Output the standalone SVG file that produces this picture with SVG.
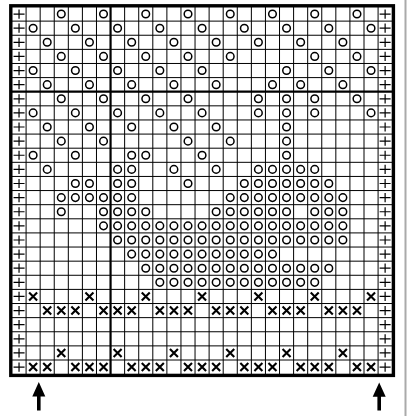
<svg xmlns="http://www.w3.org/2000/svg" xmlns:xlink="http://www.w3.org/1999/xlink" width="411" height="416" viewBox="0 0 411 416">
<style>
.grid{fill:none;stroke:#000;stroke-width:1}
.thick{fill:none;stroke:#000;stroke-width:2.2}
.border{fill:none;stroke:#000;stroke-width:3.4}
.o{fill:none;stroke:#000;stroke-width:1.5}
.x{stroke:#000;stroke-width:2.1;stroke-linecap:butt}
.p{stroke:#000;stroke-width:1.2}
.arrow{fill:#000}
</style>
<defs>
<g id="o"><circle class="o" cx="0" cy="0" r="3.8"/></g>
<g id="x"><path class="x" d="M-4,-4L4,4M4,-4L-4,4"/></g>
<g id="p"><path class="p" d="M-5.5,0H5.5M0,-4.6V4.6"/></g>
</defs>
<rect x="0" y="0" width="411" height="416" fill="#fff"/>
<line x1="405.5" y1="0" x2="405.5" y2="416" stroke="#aaa" stroke-width="2"/>
<g id="grid-lines">
<path class="grid" d="M26.08,7V374.12M40.16,7V374.12M54.24,7V374.12M68.32,7V374.12M82.4,7V374.12M96.48,7V374.12M124.64,7V374.12M138.72,7V374.12M152.8,7V374.12M166.88,7V374.12M180.96,7V374.12M195.04,7V374.12M209.12,7V374.12M223.2,7V374.12M237.28,7V374.12M251.36,7V374.12M265.44,7V374.12M279.52,7V374.12M293.6,7V374.12M307.68,7V374.12M321.76,7V374.12M335.84,7V374.12M349.92,7V374.12M364,7V374.12M378.08,7V374.12"/>
<path class="grid" d="M12,21.12H392.16M12,35.24H392.16M12,49.36H392.16M12,63.48H392.16M12,77.6H392.16M12,105.84H392.16M12,119.96H392.16M12,134.08H392.16M12,148.2H392.16M12,162.32H392.16M12,176.44H392.16M12,190.56H392.16M12,204.68H392.16M12,218.8H392.16M12,232.92H392.16M12,247.04H392.16M12,261.16H392.16M12,275.28H392.16M12,289.4H392.16M12,303.52H392.16M12,317.64H392.16M12,331.76H392.16M12,345.88H392.16M12,360H392.16"/>
<path class="thick" d="M110.56,7V374.12M12,91.72H392.16"/>
<rect class="border" x="10.8" y="5.8" width="382.6" height="369.6"/>
</g>
<g id="edge-stitches">
<use xlink:href="#p" x="19.04" y="14.06"/><use xlink:href="#p" x="385.12" y="14.06"/>
<use xlink:href="#p" x="19.04" y="28.18"/><use xlink:href="#p" x="385.12" y="28.18"/>
<use xlink:href="#p" x="19.04" y="42.3"/><use xlink:href="#p" x="385.12" y="42.3"/>
<use xlink:href="#p" x="19.04" y="56.42"/><use xlink:href="#p" x="385.12" y="56.42"/>
<use xlink:href="#p" x="19.04" y="70.54"/><use xlink:href="#p" x="385.12" y="70.54"/>
<use xlink:href="#p" x="19.04" y="84.66"/><use xlink:href="#p" x="385.12" y="84.66"/>
<use xlink:href="#p" x="19.04" y="98.78"/><use xlink:href="#p" x="385.12" y="98.78"/>
<use xlink:href="#p" x="19.04" y="112.9"/><use xlink:href="#p" x="385.12" y="112.9"/>
<use xlink:href="#p" x="19.04" y="127.02"/><use xlink:href="#p" x="385.12" y="127.02"/>
<use xlink:href="#p" x="19.04" y="141.14"/><use xlink:href="#p" x="385.12" y="141.14"/>
<use xlink:href="#p" x="19.04" y="155.26"/><use xlink:href="#p" x="385.12" y="155.26"/>
<use xlink:href="#p" x="19.04" y="169.38"/><use xlink:href="#p" x="385.12" y="169.38"/>
<use xlink:href="#p" x="19.04" y="183.5"/><use xlink:href="#p" x="385.12" y="183.5"/>
<use xlink:href="#p" x="19.04" y="197.62"/><use xlink:href="#p" x="385.12" y="197.62"/>
<use xlink:href="#p" x="19.04" y="211.74"/><use xlink:href="#p" x="385.12" y="211.74"/>
<use xlink:href="#p" x="19.04" y="225.86"/><use xlink:href="#p" x="385.12" y="225.86"/>
<use xlink:href="#p" x="19.04" y="239.98"/><use xlink:href="#p" x="385.12" y="239.98"/>
<use xlink:href="#p" x="19.04" y="254.1"/><use xlink:href="#p" x="385.12" y="254.1"/>
<use xlink:href="#p" x="19.04" y="268.22"/><use xlink:href="#p" x="385.12" y="268.22"/>
<use xlink:href="#p" x="19.04" y="282.34"/><use xlink:href="#p" x="385.12" y="282.34"/>
<use xlink:href="#p" x="19.04" y="296.46"/><use xlink:href="#p" x="385.12" y="296.46"/>
<use xlink:href="#p" x="19.04" y="310.58"/><use xlink:href="#p" x="385.12" y="310.58"/>
<use xlink:href="#p" x="19.04" y="324.7"/><use xlink:href="#p" x="385.12" y="324.7"/>
<use xlink:href="#p" x="19.04" y="338.82"/><use xlink:href="#p" x="385.12" y="338.82"/>
<use xlink:href="#p" x="19.04" y="352.94"/><use xlink:href="#p" x="385.12" y="352.94"/>
<use xlink:href="#p" x="19.04" y="367.06"/><use xlink:href="#p" x="385.12" y="367.06"/>
</g>
<g id="row-1" transform="translate(0,14.06)">
<use xlink:href="#o" x="61.28"/><use xlink:href="#o" x="103.52"/><use xlink:href="#o" x="145.76"/><use xlink:href="#o" x="188"/><use xlink:href="#o" x="230.24"/><use xlink:href="#o" x="272.48"/><use xlink:href="#o" x="314.72"/><use xlink:href="#o" x="356.96"/>
</g>
<g id="row-2" transform="translate(0,28.18)">
<use xlink:href="#o" x="33.12"/><use xlink:href="#o" x="75.36"/><use xlink:href="#o" x="117.6"/><use xlink:href="#o" x="159.84"/><use xlink:href="#o" x="202.08"/><use xlink:href="#o" x="244.32"/><use xlink:href="#o" x="286.56"/><use xlink:href="#o" x="328.8"/><use xlink:href="#o" x="371.04"/>
</g>
<g id="row-3" transform="translate(0,42.3)">
<use xlink:href="#o" x="47.2"/><use xlink:href="#o" x="89.44"/><use xlink:href="#o" x="131.68"/><use xlink:href="#o" x="173.92"/><use xlink:href="#o" x="216.16"/><use xlink:href="#o" x="258.4"/><use xlink:href="#o" x="300.64"/><use xlink:href="#o" x="342.88"/>
</g>
<g id="row-4" transform="translate(0,56.42)">
<use xlink:href="#o" x="61.28"/><use xlink:href="#o" x="103.52"/><use xlink:href="#o" x="145.76"/><use xlink:href="#o" x="188"/><use xlink:href="#o" x="230.24"/><use xlink:href="#o" x="314.72"/><use xlink:href="#o" x="356.96"/>
</g>
<g id="row-5" transform="translate(0,70.54)">
<use xlink:href="#o" x="33.12"/><use xlink:href="#o" x="75.36"/><use xlink:href="#o" x="117.6"/><use xlink:href="#o" x="159.84"/><use xlink:href="#o" x="202.08"/><use xlink:href="#o" x="286.56"/><use xlink:href="#o" x="328.8"/><use xlink:href="#o" x="371.04"/>
</g>
<g id="row-6" transform="translate(0,84.66)">
<use xlink:href="#o" x="47.2"/><use xlink:href="#o" x="89.44"/><use xlink:href="#o" x="131.68"/><use xlink:href="#o" x="173.92"/><use xlink:href="#o" x="216.16"/><use xlink:href="#o" x="272.48"/><use xlink:href="#o" x="300.64"/><use xlink:href="#o" x="342.88"/>
</g>
<g id="row-7" transform="translate(0,98.78)">
<use xlink:href="#o" x="61.28"/><use xlink:href="#o" x="103.52"/><use xlink:href="#o" x="145.76"/><use xlink:href="#o" x="188"/><use xlink:href="#o" x="258.4"/><use xlink:href="#o" x="286.56"/><use xlink:href="#o" x="314.72"/><use xlink:href="#o" x="356.96"/>
</g>
<g id="row-8" transform="translate(0,112.9)">
<use xlink:href="#o" x="33.12"/><use xlink:href="#o" x="75.36"/><use xlink:href="#o" x="117.6"/><use xlink:href="#o" x="159.84"/><use xlink:href="#o" x="202.08"/><use xlink:href="#o" x="258.4"/><use xlink:href="#o" x="286.56"/><use xlink:href="#o" x="314.72"/><use xlink:href="#o" x="371.04"/>
</g>
<g id="row-9" transform="translate(0,127.02)">
<use xlink:href="#o" x="47.2"/><use xlink:href="#o" x="89.44"/><use xlink:href="#o" x="131.68"/><use xlink:href="#o" x="173.92"/><use xlink:href="#o" x="216.16"/><use xlink:href="#o" x="286.56"/>
</g>
<g id="row-10" transform="translate(0,141.14)">
<use xlink:href="#o" x="61.28"/><use xlink:href="#o" x="103.52"/><use xlink:href="#o" x="188"/><use xlink:href="#o" x="230.24"/><use xlink:href="#o" x="286.56"/>
</g>
<g id="row-11" transform="translate(0,155.26)">
<use xlink:href="#o" x="33.12"/><use xlink:href="#o" x="75.36"/><use xlink:href="#o" x="131.68"/><use xlink:href="#o" x="145.76"/><use xlink:href="#o" x="202.08"/><use xlink:href="#o" x="286.56"/>
</g>
<g id="row-12" transform="translate(0,169.38)">
<use xlink:href="#o" x="47.2"/><use xlink:href="#o" x="117.6"/><use xlink:href="#o" x="131.68"/><use xlink:href="#o" x="173.92"/><use xlink:href="#o" x="216.16"/><use xlink:href="#o" x="258.4"/><use xlink:href="#o" x="272.48"/><use xlink:href="#o" x="286.56"/><use xlink:href="#o" x="300.64"/><use xlink:href="#o" x="314.72"/>
</g>
<g id="row-13" transform="translate(0,183.5)">
<use xlink:href="#o" x="75.36"/><use xlink:href="#o" x="89.44"/><use xlink:href="#o" x="117.6"/><use xlink:href="#o" x="131.68"/><use xlink:href="#o" x="188"/><use xlink:href="#o" x="244.32"/><use xlink:href="#o" x="258.4"/><use xlink:href="#o" x="272.48"/><use xlink:href="#o" x="286.56"/><use xlink:href="#o" x="300.64"/><use xlink:href="#o" x="314.72"/><use xlink:href="#o" x="328.8"/>
</g>
<g id="row-14" transform="translate(0,197.62)">
<use xlink:href="#o" x="61.28"/><use xlink:href="#o" x="75.36"/><use xlink:href="#o" x="89.44"/><use xlink:href="#o" x="103.52"/><use xlink:href="#o" x="117.6"/><use xlink:href="#o" x="131.68"/><use xlink:href="#o" x="230.24"/><use xlink:href="#o" x="244.32"/><use xlink:href="#o" x="258.4"/><use xlink:href="#o" x="272.48"/><use xlink:href="#o" x="286.56"/><use xlink:href="#o" x="300.64"/><use xlink:href="#o" x="314.72"/><use xlink:href="#o" x="328.8"/><use xlink:href="#o" x="342.88"/>
</g>
<g id="row-15" transform="translate(0,211.74)">
<use xlink:href="#o" x="61.28"/><use xlink:href="#o" x="103.52"/><use xlink:href="#o" x="117.6"/><use xlink:href="#o" x="131.68"/><use xlink:href="#o" x="145.76"/><use xlink:href="#o" x="216.16"/><use xlink:href="#o" x="230.24"/><use xlink:href="#o" x="244.32"/><use xlink:href="#o" x="258.4"/><use xlink:href="#o" x="272.48"/><use xlink:href="#o" x="286.56"/><use xlink:href="#o" x="314.72"/><use xlink:href="#o" x="328.8"/><use xlink:href="#o" x="342.88"/>
</g>
<g id="row-16" transform="translate(0,225.86)">
<use xlink:href="#o" x="103.52"/><use xlink:href="#o" x="117.6"/><use xlink:href="#o" x="131.68"/><use xlink:href="#o" x="145.76"/><use xlink:href="#o" x="159.84"/><use xlink:href="#o" x="173.92"/><use xlink:href="#o" x="188"/><use xlink:href="#o" x="202.08"/><use xlink:href="#o" x="216.16"/><use xlink:href="#o" x="230.24"/><use xlink:href="#o" x="244.32"/><use xlink:href="#o" x="258.4"/><use xlink:href="#o" x="272.48"/><use xlink:href="#o" x="286.56"/><use xlink:href="#o" x="300.64"/><use xlink:href="#o" x="314.72"/><use xlink:href="#o" x="328.8"/><use xlink:href="#o" x="342.88"/>
</g>
<g id="row-17" transform="translate(0,239.98)">
<use xlink:href="#o" x="117.6"/><use xlink:href="#o" x="131.68"/><use xlink:href="#o" x="145.76"/><use xlink:href="#o" x="159.84"/><use xlink:href="#o" x="173.92"/><use xlink:href="#o" x="188"/><use xlink:href="#o" x="202.08"/><use xlink:href="#o" x="216.16"/><use xlink:href="#o" x="230.24"/><use xlink:href="#o" x="244.32"/><use xlink:href="#o" x="258.4"/><use xlink:href="#o" x="272.48"/><use xlink:href="#o" x="286.56"/><use xlink:href="#o" x="300.64"/><use xlink:href="#o" x="314.72"/><use xlink:href="#o" x="328.8"/><use xlink:href="#o" x="342.88"/>
</g>
<g id="row-18" transform="translate(0,254.1)">
<use xlink:href="#o" x="131.68"/><use xlink:href="#o" x="145.76"/><use xlink:href="#o" x="159.84"/><use xlink:href="#o" x="173.92"/><use xlink:href="#o" x="188"/><use xlink:href="#o" x="202.08"/><use xlink:href="#o" x="216.16"/><use xlink:href="#o" x="230.24"/><use xlink:href="#o" x="244.32"/><use xlink:href="#o" x="258.4"/><use xlink:href="#o" x="272.48"/>
</g>
<g id="row-19" transform="translate(0,268.22)">
<use xlink:href="#o" x="145.76"/><use xlink:href="#o" x="159.84"/><use xlink:href="#o" x="173.92"/><use xlink:href="#o" x="188"/><use xlink:href="#o" x="202.08"/><use xlink:href="#o" x="216.16"/><use xlink:href="#o" x="230.24"/><use xlink:href="#o" x="244.32"/><use xlink:href="#o" x="258.4"/><use xlink:href="#o" x="272.48"/><use xlink:href="#o" x="286.56"/><use xlink:href="#o" x="300.64"/><use xlink:href="#o" x="314.72"/><use xlink:href="#o" x="328.8"/>
</g>
<g id="row-20" transform="translate(0,282.34)">
<use xlink:href="#o" x="159.84"/><use xlink:href="#o" x="173.92"/><use xlink:href="#o" x="188"/><use xlink:href="#o" x="202.08"/><use xlink:href="#o" x="216.16"/><use xlink:href="#o" x="230.24"/><use xlink:href="#o" x="244.32"/><use xlink:href="#o" x="258.4"/><use xlink:href="#o" x="272.48"/><use xlink:href="#o" x="286.56"/><use xlink:href="#o" x="300.64"/><use xlink:href="#o" x="314.72"/>
</g>
<g id="row-21" transform="translate(0,296.46)">
<use xlink:href="#x" x="33.12"/><use xlink:href="#x" x="89.44"/><use xlink:href="#x" x="145.76"/><use xlink:href="#x" x="202.08"/><use xlink:href="#x" x="258.4"/><use xlink:href="#x" x="314.72"/><use xlink:href="#x" x="371.04"/>
</g>
<g id="row-22" transform="translate(0,310.58)">
<use xlink:href="#x" x="47.2"/><use xlink:href="#x" x="61.28"/><use xlink:href="#x" x="75.36"/><use xlink:href="#x" x="103.52"/><use xlink:href="#x" x="117.6"/><use xlink:href="#x" x="131.68"/><use xlink:href="#x" x="159.84"/><use xlink:href="#x" x="173.92"/><use xlink:href="#x" x="188"/><use xlink:href="#x" x="216.16"/><use xlink:href="#x" x="230.24"/><use xlink:href="#x" x="244.32"/><use xlink:href="#x" x="272.48"/><use xlink:href="#x" x="286.56"/><use xlink:href="#x" x="300.64"/><use xlink:href="#x" x="328.8"/><use xlink:href="#x" x="342.88"/><use xlink:href="#x" x="356.96"/>
</g>
<g id="row-25" transform="translate(0,352.94)">
<use xlink:href="#x" x="61.28"/><use xlink:href="#x" x="117.6"/><use xlink:href="#x" x="173.92"/><use xlink:href="#x" x="230.24"/><use xlink:href="#x" x="286.56"/><use xlink:href="#x" x="342.88"/>
</g>
<g id="row-26" transform="translate(0,367.06)">
<use xlink:href="#x" x="33.12"/><use xlink:href="#x" x="47.2"/><use xlink:href="#x" x="75.36"/><use xlink:href="#x" x="89.44"/><use xlink:href="#x" x="103.52"/><use xlink:href="#x" x="131.68"/><use xlink:href="#x" x="145.76"/><use xlink:href="#x" x="159.84"/><use xlink:href="#x" x="188"/><use xlink:href="#x" x="202.08"/><use xlink:href="#x" x="216.16"/><use xlink:href="#x" x="244.32"/><use xlink:href="#x" x="258.4"/><use xlink:href="#x" x="272.48"/><use xlink:href="#x" x="300.64"/><use xlink:href="#x" x="314.72"/><use xlink:href="#x" x="328.8"/><use xlink:href="#x" x="356.96"/><use xlink:href="#x" x="371.04"/>
</g>
<g id="arrows">
<path class="arrow" d="M38.8,382L45.3,396.5H40.6V410.6H37V396.5H32.3Z"/>
<path class="arrow" d="M379.2,382.5L385.7,396.8H381V410.6H377.4V396.8H372.7Z"/>
</g>
</svg>
